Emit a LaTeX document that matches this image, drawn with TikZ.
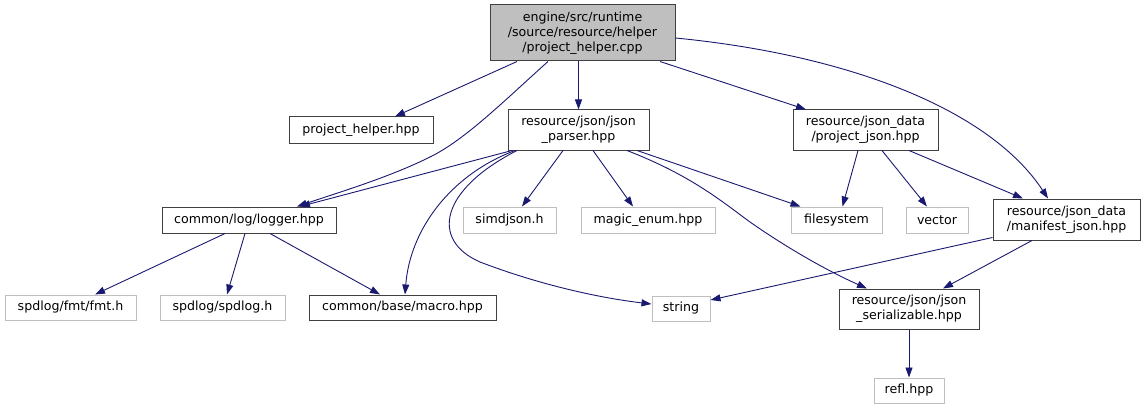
\documentclass[tikz,border=0pt]{standalone}
\usepackage{fontspec}
\setmainfont{DejaVu Sans}
\usetikzlibrary{arrows.meta}
\definecolor{edgec}{HTML}{191970}
\definecolor{grayb}{HTML}{BFBFBF}
\definecolor{darkb}{HTML}{404040}
\begin{document}
\begin{tikzpicture}[x=1pt,y=-1pt,
  nb/.style={draw=darkb, line width=1pt, inner sep=0pt, align=center, font=\fontsize{12.6}{15}\selectfont, text=black},
  gb/.style={nb, draw=grayb},
  rb/.style={nb, fill=grayb},
  ed/.style={draw=edgec, line width=0.9pt, -{Triangle[length=10pt,width=7pt]}}]
\useasboundingbox (0,0) rectangle (1145,409);
% nodes
\node[rb, minimum width=185pt, minimum height=56pt] (root) at (582.5,33) {engine/src/runtime\\/source/resource/helper\\/project\_helper.cpp};
\node[nb, minimum width=144pt, minimum height=26pt] (ph) at (361,130) {project\_helper.hpp};
\node[nb, minimum width=141pt, minimum height=40pt] (jp) at (578.5,130) {resource/json/json\\\_parser.hpp};
\node[nb, minimum width=145pt, minimum height=40pt] (pj) at (865.5,130) {resource/json\_data\\/project\_json.hpp};
\node[nb, minimum width=174pt, minimum height=26pt] (lg) at (249,220) {common/log/logger.hpp};
\node[gb, minimum width=93pt, minimum height=26pt] (sj) at (509.5,220) {simdjson.h};
\node[gb, minimum width=134pt, minimum height=26pt] (me) at (648,220) {magic\_enum.hpp};
\node[gb, minimum width=91pt, minimum height=26pt] (fs) at (836.5,220) {filesystem};
\node[gb, minimum width=62pt, minimum height=26pt] (vc) at (937,220) {vector};
\node[nb, minimum width=147pt, minimum height=41pt] (mj) at (1066.5,219.5) {resource/json\_data\\/manifest\_json.hpp};
\node[gb, minimum width=131pt, minimum height=25pt] (fm) at (70.5,307.5) {spdlog/fmt/fmt.h};
\node[gb, minimum width=125pt, minimum height=25pt] (sp) at (222.5,307.5) {spdlog/spdlog.h};
\node[nb, minimum width=187pt, minimum height=25pt] (mc) at (402.5,307.5) {common/base/macro.hpp};
\node[gb, minimum width=58pt, minimum height=25pt] (st) at (681,308.5) {string};
\node[nb, minimum width=140pt, minimum height=40pt] (js) at (909,309) {resource/json/json\\\_serializable.hpp};
\node[gb, minimum width=70pt, minimum height=25pt] (rf) at (909,390.5) {refl.hpp};
% edges from root
\draw[ed] ([xshift=-65.5pt]root.south) -- ([xshift=34pt]ph.north);
\draw[ed] ([xshift=-34.5pt]root.south) .. controls (505,100) and (465,140) .. (430,157) .. controls (390,177) and (340,192) .. ([xshift=48pt]lg.north);
\draw[ed] (jp.north |- root.south) -- (jp.north);
\draw[ed] ([xshift=77.5pt]root.south) -- ([xshift=-59.5pt]pj.north);
\draw[ed] ([yshift=-5pt]root.east) .. controls (850,55) and (990,110) .. ([xshift=-18.5pt]mj.north);
% edges from json_parser
\draw[ed] ([xshift=-66.5pt]jp.south) -- ([xshift=51pt]lg.north);
\draw[ed] ([xshift=-15.5pt]jp.south) -- ([xshift=12.5pt]sj.north);
\draw[ed] ([xshift=14.5pt]jp.south) -- ([xshift=-15pt]me.north);
\draw[ed] ([xshift=58.5pt]jp.south) -- ([xshift=-36pt]fs.north);
\draw[ed] ([xshift=-63.5pt]jp.south) .. controls (450,175) and (410,230) .. ([xshift=2.5pt]mc.north);
\draw[ed] ([xshift=-61.5pt]jp.south) .. controls (440,190) and (430,240) .. (480,262) .. controls (540,285) and (600,298) .. ([yshift=4.5pt]st.west);
\draw[ed] ([xshift=48.5pt]jp.south) .. controls (690,175) and (720,200) .. (750,222) .. controls (790,250) and (830,272) .. ([xshift=-42pt]js.north);
% edges from project_json
\draw[ed] ([xshift=-7.5pt]pj.south) -- ([xshift=6pt]fs.north);
\draw[ed] ([xshift=16.5pt]pj.south) -- ([xshift=-10pt]vc.north);
\draw[ed] ([xshift=43.5pt]pj.south) -- ([xshift=-43.5pt]mj.north);
% edges from logger
\draw[ed] ([xshift=-24pt]lg.south) -- ([xshift=24.5pt]fm.north);
\draw[ed] ([xshift=-4pt]lg.south) -- ([xshift=4.5pt]sp.north);
\draw[ed] ([xshift=21pt]lg.south) -- ([xshift=-22.5pt]mc.north);
% edges from manifest_json
\draw[ed] ([yshift=3pt]mj.south west) -- ([yshift=8.5pt]st.east);
\draw[ed] ([xshift=-34.5pt]mj.south) -- ([xshift=34pt]js.north);
% json_serializable
\draw[ed] (js.south) -- (rf.north);
\end{tikzpicture}
\end{document}
